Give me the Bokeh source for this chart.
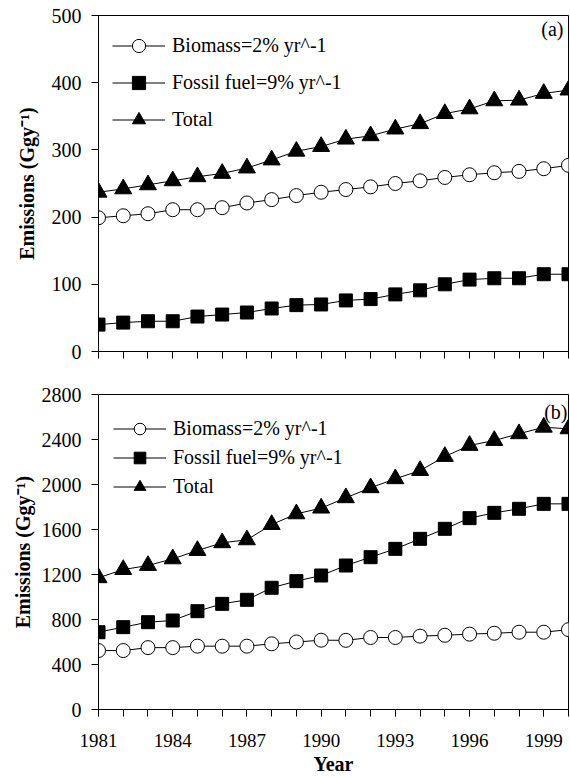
from bokeh.plotting import figure
from bokeh.layouts import column
from bokeh.models import FixedTicker, Range1d, Legend, LegendItem, Label, ColumnDataSource
from bokeh.embed import file_html
from bokeh.resources import INLINE

years = list(range(1981, 2001))

# Panel (a)
biomass_a = [199, 202, 205, 211, 211, 214, 221, 226, 232, 237, 241, 245, 250, 254, 259, 263, 266, 268, 272, 277]
fossil_a = [40, 43, 45, 45, 52, 55, 58, 64, 69, 70, 76, 78, 85, 91, 100, 107, 109, 109, 115, 115]
total_a = [237, 242, 248, 254, 260, 265, 273, 285, 298, 305, 316, 321, 331, 339, 354, 361, 373, 374, 384, 389]

# Panel (b)
biomass_b = [524, 524, 550, 550, 563, 563, 563, 584, 600, 616, 615, 640, 640, 652, 660, 670, 678, 687, 687, 710]
fossil_b = [687, 732, 776, 791, 874, 939, 975, 1082, 1141, 1191, 1280, 1354, 1428, 1517, 1606, 1701, 1748, 1784, 1828, 1828]
total_b = [1171, 1244, 1280, 1339, 1413, 1482, 1508, 1644, 1739, 1790, 1882, 1971, 2051, 2124, 2249, 2347, 2391, 2451, 2509, 2495]

labels = ["Biomass=2% yr^-1", "Fossil fuel=9% yr^-1", "Total"]
yticks_a = [0, 100, 200, 300, 400, 500]
yticks_b = [0, 400, 800, 1200, 1600, 2000, 2400, 2800]
xticks_b = [1981, 1984, 1987, 1990, 1993, 1996, 1999]
ylabel = "Emissions (Ggy\u207b\u00b9)"
xlabel = "Year"

FONT = "Liberation Serif"


def make_panel(height, border_top, border_bottom, ymax, yticks, series, panel_tag,
               legend_loc, legend_spacing, legend_glyph_h, show_xlabels,
               ylabel_standoff, tag_offset):
    p = figure(width=570, height=height, output_backend="svg", toolbar_location=None,
               x_range=Range1d(1981, 2000), y_range=Range1d(0, ymax),
               min_border_left=98, min_border_right=2, min_border_top=border_top,
               min_border_bottom=border_bottom)
    p.grid.visible = False
    p.outline_line_color = "black"
    p.outline_line_width = 1
    p.background_fill_color = "white"
    p.border_fill_color = "white"

    ya = p.yaxis[0]
    ya.ticker = FixedTicker(ticks=yticks)
    ya.major_tick_in = 0
    ya.major_tick_out = 7
    ya.minor_tick_in = 0
    ya.minor_tick_out = 0
    ya.major_label_standoff = 10
    ya.major_label_text_font = FONT
    ya.major_label_text_font_size = "20px"
    ya.major_label_text_color = "black"
    ya.axis_label = ylabel
    ya.axis_label_text_font = FONT
    ya.axis_label_text_font_style = "bold"
    ya.axis_label_text_font_size = "20px"
    ya.axis_label_text_color = "black"
    ya.axis_label_standoff = ylabel_standoff
    ya.axis_line_color = "black"
    ya.major_tick_line_color = "black"

    xa = p.xaxis[0]
    if show_xlabels:
        xa.ticker = FixedTicker(ticks=xticks_b, minor_ticks=years)
        xa.major_label_text_font = FONT
        xa.major_label_text_font_size = "19px"
        xa.major_label_text_color = "black"
        xa.major_label_standoff = 17
        xa.axis_label = xlabel
        xa.axis_label_text_font = FONT
        xa.axis_label_text_font_style = "bold"
        xa.axis_label_text_font_size = "20px"
        xa.axis_label_text_color = "black"
        xa.axis_label_standoff = 3
    else:
        xa.ticker = FixedTicker(ticks=[], minor_ticks=years)
        xa.major_label_text_font_size = "0px"
    xa.major_tick_in = 0
    xa.major_tick_out = 7
    xa.minor_tick_in = 0
    xa.minor_tick_out = 7
    xa.minor_tick_line_color = "black"
    xa.major_tick_line_color = "black"
    xa.axis_line_color = "black"

    bio, fos, tot = series
    items = []
    specs = [
        (bio, "circle", "white", 14),
        (fos, "square", "black", 13),
        (tot, "triangle", "black", 17),
    ]
    for (vals, marker, fill, size), lab in zip(specs, labels):
        src = ColumnDataSource(dict(x=years, y=vals))
        ln = p.line("x", "y", source=src, line_color="black", line_width=1)
        sc = p.scatter("x", "y", source=src, marker=marker, size=size,
                       fill_color=fill, line_color="black", line_width=1)
        items.append(LegendItem(label=lab, renderers=[ln, sc]))

    leg = Legend(items=items, location=legend_loc, orientation="vertical",
                 glyph_width=53, glyph_height=legend_glyph_h, label_height=20,
                 label_standoff=7, spacing=legend_spacing, padding=0, margin=0,
                 border_line_color=None, background_fill_alpha=0,
                 label_text_font=FONT, label_text_font_size="20px",
                 label_text_color="black")
    p.add_layout(leg, "center")

    p.add_layout(Label(x=2000, y=ymax, x_offset=tag_offset[0], y_offset=tag_offset[1],
                       text=panel_tag, text_align="right", text_baseline="top",
                       text_font=FONT, text_font_size="20px", text_color="black"))
    return p


pa = make_panel(372, 15, 21, 500, yticks_a, (biomass_a, fossil_a, total_a), "(a)",
                (14, 215), 4, 33, False, 11, (-5, -2))
pb = make_panel(405, 22, 68, 2800, yticks_b, (biomass_b, fossil_b, total_b), "(b)",
                (15, 208), 0, 29, True, 5, (-1, -6))

layout = column(pa, pb, spacing=0)
open("out.html", "w").write(file_html(layout, INLINE))
